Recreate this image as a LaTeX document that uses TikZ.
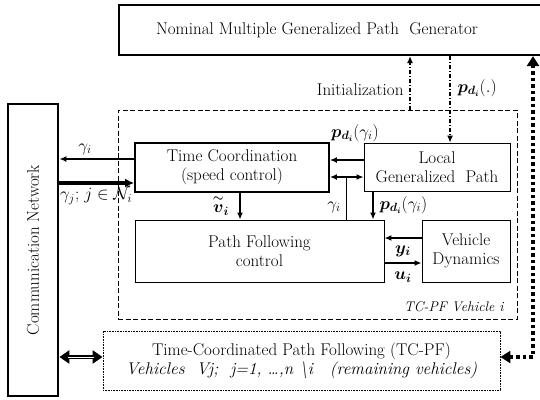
\documentclass[tikz,border=0pt]{standalone}
\usepackage{amsmath,bm}
\usetikzlibrary{arrows.meta,calc}
\begin{document}
\begin{tikzpicture}[x=1pt,y=-1pt,
  every node/.style={font=\fontsize{17}{19}\selectfont},
  blk/.style={draw,inner sep=0pt,align=center},
  thinblk/.style={blk,line width=0.9pt},
  thickblk/.style={blk,line width=2.2pt},
  lbl/.style={inner sep=1pt},
  arr/.style={line width=1.6pt,-{Latex[length=7pt,width=6pt]}},
  dd/.style={line width=1.2pt,dash pattern=on 4pt off 2pt on 1pt off 2pt,-{Latex[length=7pt,width=6pt]}},
  bigdot/.style={line width=3.5pt,dash pattern=on 3.5pt off 3pt,{Triangle[length=10pt,width=12pt]}-{Triangle[length=10pt,width=12pt]}}
]
\useasboundingbox (0,0) rectangle (540,399);
\clip (0,0) rectangle (540,399);
% blocks
\node[thickblk,minimum width=428pt,minimum height=50pt] (gen) at (333,30) {};
\node (gentext) at (317,30) {Nominal Multiple Generalized Path\ \ Generator};
\node[draw,dashed,line width=0.9pt,dash pattern=on 5pt off 2.5pt,minimum width=399pt,minimum height=209pt,inner sep=0pt] (dash) at (317.5,214.5) {};
\node[thickblk,line width=2.8pt,minimum width=50pt,minimum height=292pt] (comm) at (33,250) {};
\node[rotate=90] (commtext) at (33,250) {Communication Network};
\node[blk,line width=1.8pt,minimum width=194pt,minimum height=49pt] (tc) at (232,167.5) {Time Coordination\\(speed control)};
\node[thinblk,minimum width=146pt,minimum height=48pt] (loc) at (437,167) {Local\\Generalized\ \ Path};
\node[thinblk,minimum width=249pt,minimum height=62pt] (pf) at (259.5,251) {Path Following\\control};
\node[thinblk,minimum width=88pt,minimum height=62pt] (vd) at (466,251) {Vehicle\\Dynamics};
\node[blk,line width=0.9pt,dash pattern=on 1pt off 0.6pt,minimum width=397pt,minimum height=59pt] (bot) at (301.5,360.5) {Time-Coordinated Path Following (TC-PF)\\\textit{Vehicles\ \ Vj;\ \ j=1, \dots,n \textbackslash i\quad (remaining vehicles)}};
\node[font=\fontsize{14}{16}\selectfont\itshape,anchor=east] (tcpf) at (507,307) {TC-PF Vehicle i};
% helper coordinates
\coordinate (xinit) at (410,0);
\coordinate (xp) at (450,0);
\coordinate (xg) at (346,0);
\coordinate (xpd) at (373,0);
\coordinate (xv) at (240,0);
\coordinate (xr) at (533,0);
\coordinate (y159) at (0,159);
\coordinate (y183) at (0,183);
\coordinate (y160) at (0,160);
\coordinate (y177) at (0,177);
\coordinate (y238) at (0,238);
\coordinate (y263) at (0,263);
\coordinate (y357) at (0,357);
\coordinate (corner) at (533,357);
% connectors
\draw[dd] (xinit |- dash.north) -- (xinit |- gen.south);
\node[anchor=east] (initl) at (407,90) {Initialization};
\draw[dd] (xp |- gen.south) -- (xp |- loc.north);
\node[anchor=west] (pl) at (454,88) {$\bm{p}_{\bm{d_i}}(.)$};
\draw[line width=1.4pt,-{Latex[length=7pt,width=6pt]}] (tc.west |- y159) -- (comm.east |- y159);
\node (g1) at (85,149) {$\gamma_i$};
\draw[line width=3.5pt,-{Latex[length=9pt,width=9pt]}] (comm.east |- y183) -- (tc.west |- y183);
\node[anchor=west,inner sep=1pt] (g2) at (59,196) {$\gamma_{j}$; $j\in\mathcal{N}_i$};
\draw[arr] (loc.west |- y160) -- (tc.east |- y160);
\node (pl2) at (355,133) {$\bm{p}_{\bm{d_i}}(\gamma_i)$};
\draw[line width=1.6pt,{Latex[length=7pt,width=6pt]}-{Latex[length=7pt,width=6pt]}] (tc.east |- y177) -- (loc.west |- y177);
\draw[line width=0.9pt] (xg |- y177) -- (xg |- pf.north);
\node (g3) at (334,207) {$\gamma_i$};
\draw[arr] (xpd |- loc.south) -- (xpd |- pf.north);
\node[anchor=west] (pl3) at (376,205) {$\bm{p}_{\bm{d_i}}(\gamma_i)$};
\draw[arr] (xv |- tc.south) -- (xv |- pf.north);
\node[inner sep=0.5pt] (vt) at (221,205) {$\overset{\bm{\sim}}{\bm{v}}_{\bm{i}}$};
\draw[arr] (vd.west |- y238) -- (pf.east |- y238);
\node (yl) at (403,251) {$\bm{y_i}$};
\draw[arr] (pf.east |- y263) -- (vd.west |- y263);
\node (ul) at (403,277) {$\bm{u_i}$};
\draw[bigdot] (bot.east |- y357) -- (corner) -- (xr |- gen.south);
\draw[line width=3.8pt,{Triangle[length=10pt,width=13pt]}-{Triangle[length=10pt,width=13pt]}] (comm.east |- y357) -- (bot.west |- y357);
\draw[white,line width=1pt,shorten <=9pt,shorten >=9pt] (comm.east |- y357) -- (bot.west |- y357);
\end{tikzpicture}
\end{document}
